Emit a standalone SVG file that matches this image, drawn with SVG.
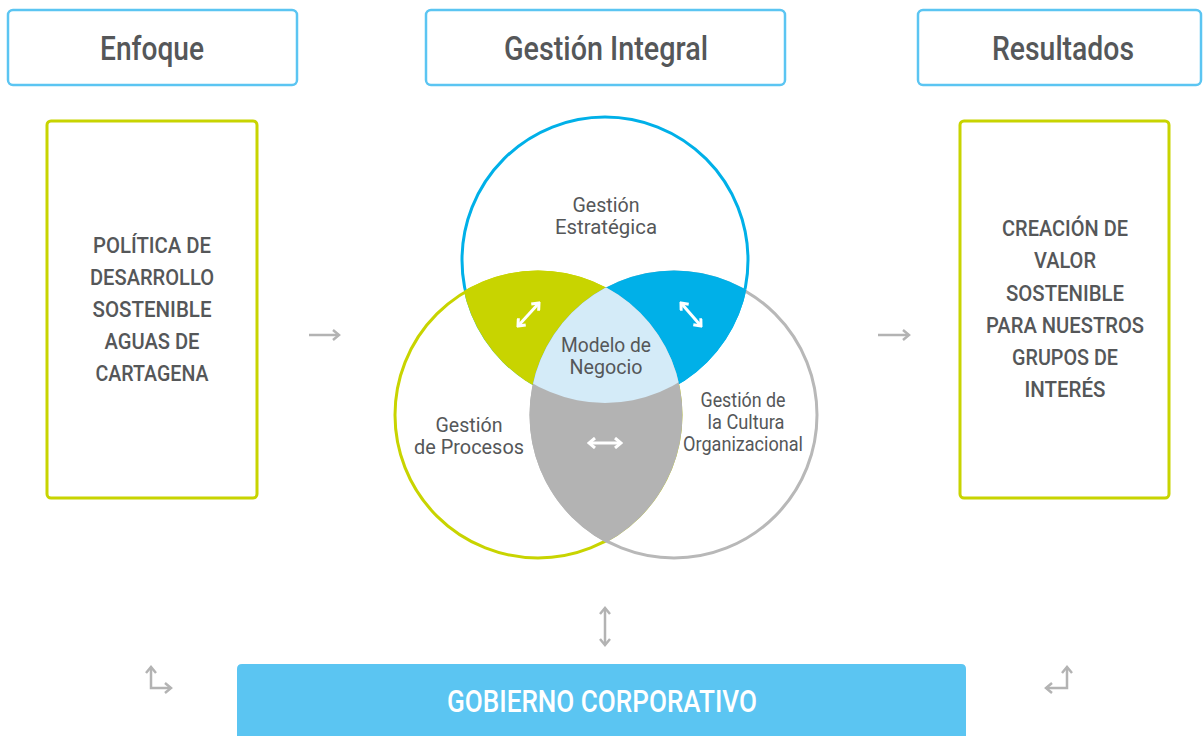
<svg xmlns="http://www.w3.org/2000/svg" width="1203" height="736" viewBox="0 0 1203 736">
<style>
.hdr{fill:#fff;stroke:#5bc5f2;stroke-width:2.5}
.box{fill:#fff;stroke:#c8d400;stroke-width:3}
.t{font-family:Roboto,"Liberation Sans",sans-serif;fill:#555759;text-anchor:middle}
.h{font-size:33px;font-weight:500}
.b{font-size:22px;font-weight:500}
.v{font-size:21px}
.ga{fill:none;stroke:#b3b3b3;stroke-width:2.5;marker-end:url(#mg)}
.gd{fill:none;stroke:#b3b3b3;stroke-width:2.5;marker-end:url(#mg);marker-start:url(#mg)}
.wd{fill:none;stroke:#fff;stroke-width:3;marker-end:url(#mw);marker-start:url(#mw)}
</style>
<defs>
<marker id="mg" markerUnits="userSpaceOnUse" viewBox="0 0 10 12" refX="8" refY="6" markerWidth="10" markerHeight="12" orient="auto-start-reverse">
<path d="M2,1 L8,6 L2,11" fill="none" stroke="#b3b3b3" stroke-width="2.5"/>
</marker>
<marker id="mw" markerUnits="userSpaceOnUse" viewBox="0 0 10 12" refX="8" refY="6" markerWidth="10" markerHeight="12" orient="auto-start-reverse">
<path d="M2,1 L8,6 L2,11" fill="none" stroke="#fff" stroke-width="3"/>
</marker>
<clipPath id="cGreen"><circle cx="538" cy="415" r="144.5"/></clipPath>
<clipPath id="cGrey"><circle cx="674" cy="415" r="144.5"/></clipPath>
</defs>

<g id="hdr-enfoque">
<rect class="hdr" x="8" y="10" width="289" height="75" rx="5"/>
<text class="t h" x="152" y="60" textLength="104" lengthAdjust="spacingAndGlyphs">Enfoque</text>
</g>
<g id="hdr-gestion">
<rect class="hdr" x="426" y="10" width="359" height="75" rx="5"/>
<text class="t h" x="606" y="60" textLength="204" lengthAdjust="spacingAndGlyphs">Gestión Integral</text>
</g>
<g id="hdr-resultados">
<rect class="hdr" x="918" y="10" width="283" height="75" rx="5"/>
<text class="t h" x="1063" y="60" textLength="142" lengthAdjust="spacingAndGlyphs">Resultados</text>
</g>

<g id="box-politica">
<rect class="box" x="47" y="121" width="210" height="377" rx="4"/>
<text class="t b" x="152" y="253" textLength="118" lengthAdjust="spacingAndGlyphs">POLÍTICA DE</text>
<text class="t b" x="152" y="285" textLength="124" lengthAdjust="spacingAndGlyphs">DESARROLLO</text>
<text class="t b" x="152" y="317" textLength="119" lengthAdjust="spacingAndGlyphs">SOSTENIBLE</text>
<text class="t b" x="152" y="349" textLength="95" lengthAdjust="spacingAndGlyphs">AGUAS DE</text>
<text class="t b" x="152" y="381" textLength="113" lengthAdjust="spacingAndGlyphs">CARTAGENA</text>
</g>

<g id="box-valor">
<rect class="box" x="960" y="121" width="209" height="377" rx="4"/>
<text class="t b" x="1065" y="236" textLength="126" lengthAdjust="spacingAndGlyphs">CREACIÓN DE</text>
<text class="t b" x="1065" y="268" textLength="62" lengthAdjust="spacingAndGlyphs">VALOR</text>
<text class="t b" x="1065" y="301" textLength="118" lengthAdjust="spacingAndGlyphs">SOSTENIBLE</text>
<text class="t b" x="1065" y="333" textLength="158" lengthAdjust="spacingAndGlyphs">PARA NUESTROS</text>
<text class="t b" x="1065" y="365" textLength="106" lengthAdjust="spacingAndGlyphs">GRUPOS DE</text>
<text class="t b" x="1065" y="397" textLength="81" lengthAdjust="spacingAndGlyphs">INTERÉS</text>
</g>

<g id="venn">
<circle cx="605" cy="260" r="143" fill="none" stroke="#00b0e8" stroke-width="3"/>
<circle cx="538" cy="415" r="143" fill="none" stroke="#c8d400" stroke-width="3"/>
<circle cx="674" cy="415" r="143" fill="none" stroke="#b8b8b8" stroke-width="3"/>
<circle cx="605" cy="260" r="144.5" fill="#c8d400" clip-path="url(#cGreen)"/>
<circle cx="605" cy="260" r="144.5" fill="#00b0e8" clip-path="url(#cGrey)"/>
<circle cx="538" cy="415" r="144.5" fill="#b3b3b3" clip-path="url(#cGrey)"/>
<g clip-path="url(#cGreen)"><circle cx="605" cy="260" r="143" fill="#d4ebf8" clip-path="url(#cGrey)"/></g>
</g>

<g id="lbl-estrategica">
<text class="t v" x="606" y="212" textLength="67" lengthAdjust="spacingAndGlyphs">Gestión</text>
<text class="t v" x="606" y="234" textLength="102" lengthAdjust="spacingAndGlyphs">Estratégica</text>
</g>
<g id="lbl-modelo">
<text class="t v" x="606" y="352" textLength="90" lengthAdjust="spacingAndGlyphs">Modelo de</text>
<text class="t v" x="606" y="374" textLength="73" lengthAdjust="spacingAndGlyphs">Negocio</text>
</g>
<g id="lbl-procesos">
<text class="t v" x="469" y="432" textLength="67" lengthAdjust="spacingAndGlyphs">Gestión</text>
<text class="t v" x="469" y="454" textLength="110" lengthAdjust="spacingAndGlyphs">de Procesos</text>
</g>
<g id="lbl-cultura">
<text class="t v" x="743" y="407" textLength="85" lengthAdjust="spacingAndGlyphs">Gestión de</text>
<text class="t v" x="746" y="429" textLength="77" lengthAdjust="spacingAndGlyphs">la Cultura</text>
<text class="t v" x="743" y="451" textLength="120" lengthAdjust="spacingAndGlyphs">Organizacional</text>
</g>

<g id="gobierno">
<path d="M237,736 V669 Q237,664 242,664 H961 Q966,664 966,669 V736 Z" fill="#5bc5f2"/>
<text x="602" y="712" font-family="Roboto,'Liberation Sans',sans-serif" font-size="32" font-weight="500" fill="#fff" text-anchor="middle" textLength="310" lengthAdjust="spacingAndGlyphs">GOBIERNO CORPORATIVO</text>
</g>

<g id="connectors">
<path class="ga" d="M309,335 H339"/>
<path class="ga" d="M878,335 H909"/>
<path class="gd" d="M605,608 V645"/>
<path class="gd" d="M151,667 V688 H171"/>
<path class="gd" d="M1067,667 V688 H1046"/>
<path class="wd" d="M518,326 L539,303"/>
<path class="wd" d="M681,303 L701,326"/>
<path class="wd" d="M589,443 H621"/>
</g>
</svg>
